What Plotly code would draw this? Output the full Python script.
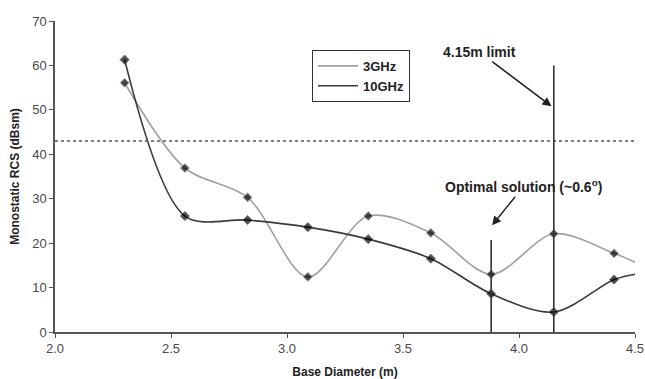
import plotly.graph_objects as go

diam = [2.30, 2.56, 2.83, 3.09, 3.35, 3.62, 3.88, 4.15, 4.41, 4.50]
rcs_3ghz = [56.1, 36.9, 30.3, 12.4, 26.1, 22.3, 13.0, 22.1, 17.7, 15.7]
rcs_10ghz = [61.3, 26.1, 25.2, 23.6, 20.9, 16.5, 8.6, 4.5, 11.8, 13.0]
marker_sizes = [7, 7, 7, 7, 7, 7, 7, 7, 7, 0]
threshold = 43
limit_x = 4.15
limit_top = 60
optimal_x = 3.88
optimal_top = 20.7
x_ticks = [2.0, 2.5, 3.0, 3.5, 4.0, 4.5]
y_ticks = [0, 10, 20, 30, 40, 50, 60, 70]

FONT = "Liberation Sans, Arial, sans-serif"

fig = go.Figure()

fig.add_trace(go.Scatter(
    x=diam, y=rcs_3ghz, mode="lines+markers", name="3GHz",
    line=dict(color="#a0a0a0", width=1.6, shape="spline", smoothing=0.9),
    marker=dict(symbol="diamond", size=marker_sizes, color="#000000"),
    showlegend=False))
fig.add_trace(go.Scatter(
    x=diam, y=rcs_10ghz, mode="lines+markers", name="10GHz",
    line=dict(color="#3a3a3a", width=1.6, shape="spline", smoothing=0.9),
    marker=dict(symbol="diamond", size=marker_sizes, color="#000000"),
    showlegend=False))

# legend-only traces (lines without markers)
fig.add_trace(go.Scatter(x=[None], y=[None], mode="lines", name="<b>3GHz</b>",
                         line=dict(color="#a0a0a0", width=1.6)))
fig.add_trace(go.Scatter(x=[None], y=[None], mode="lines", name="<b>10GHz</b>",
                         line=dict(color="#3a3a3a", width=1.6)))

# dotted threshold
fig.add_trace(go.Scatter(x=[2.0, 4.5], y=[threshold, threshold], mode="lines",
                         line=dict(color="#555555", width=1.5, dash="dot"),
                         showlegend=False, hoverinfo="skip"))
# vertical lines
fig.add_trace(go.Scatter(x=[limit_x, limit_x], y=[0, limit_top], mode="lines",
                         line=dict(color="#333333", width=1.6),
                         showlegend=False, hoverinfo="skip"))
fig.add_trace(go.Scatter(x=[optimal_x, optimal_x], y=[0, optimal_top], mode="lines",
                         line=dict(color="#333333", width=1.6),
                         showlegend=False, hoverinfo="skip"))

# annotations with arrows (text sits at the arrow tail)
fig.add_annotation(x=4.14, y=50.8, ax=3.83, ay=63.0, xref="x", yref="y",
                   axref="x", ayref="y", text="<b>4.15m limit</b>", showarrow=True,
                   arrowhead=2, arrowsize=1.2, arrowwidth=1.5, arrowcolor="#222222",
                   font=dict(family=FONT, size=14, color="#222222"))
fig.add_annotation(x=3.884, y=24.0, ax=4.02, ay=32.8, xref="x", yref="y",
                   axref="x", ayref="y",
                   text="<b>Optimal solution (~0.6<sup>o</sup>)</b>", showarrow=True,
                   arrowhead=2, arrowsize=1.2, arrowwidth=1.5, arrowcolor="#222222",
                   font=dict(family=FONT, size=14, color="#222222"))

fig.update_layout(
    width=645, height=379,
    margin=dict(l=55, r=10, t=21, b=47),
    paper_bgcolor="white", plot_bgcolor="white",
    font=dict(family=FONT, size=13, color="#4a4a4a"),
    legend=dict(x=0.443, y=0.907, xanchor="left", yanchor="top",
                bgcolor="white", bordercolor="#333333", borderwidth=1,
                font=dict(family=FONT, size=13, color="#222222"),
                itemwidth=40, tracegroupgap=0),
    xaxis=dict(range=[2.0, 4.5], tickvals=x_ticks,
               ticktext=[f"{v:.1f}" for v in x_ticks],
               showgrid=False, zeroline=False, showline=True, automargin=False,
               linecolor="#555555", linewidth=1.5, ticks="outside",
               ticklen=4, tickcolor="#555555",
               title=dict(text="<b>Base Diameter (m)</b>", standoff=12,
                          font=dict(family=FONT, size=12, color="#222222"))),
    yaxis=dict(range=[0, 70], tickvals=y_ticks,
               showgrid=False, zeroline=False, showline=True, automargin=False,
               linecolor="#555555", linewidth=1.5, ticks="outside",
               ticklen=4, tickcolor="#555555",
               title=dict(text="<b>Monostatic RCS (dBsm)</b>", standoff=10,
                          font=dict(family=FONT, size=12, color="#222222"))),
)

fig.write_html("out.html", config={"displayModeBar": False},
               post_script="document.body.style.margin='0';document.body.style.overflow='hidden';")
